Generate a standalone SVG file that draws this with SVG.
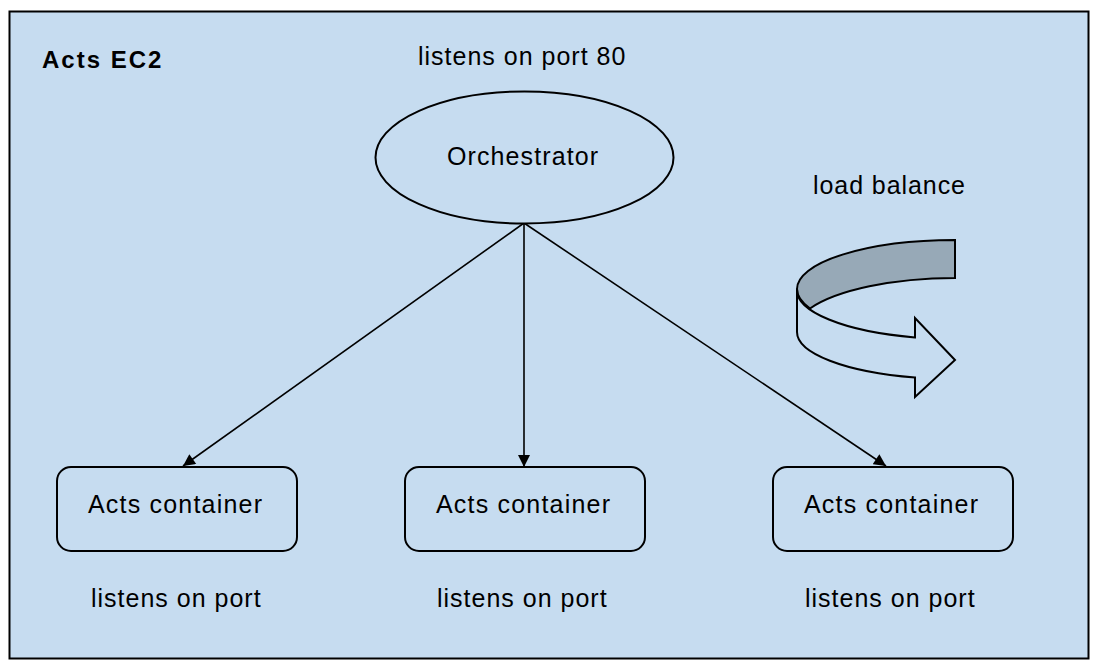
<svg xmlns="http://www.w3.org/2000/svg" width="1100" height="670" viewBox="0 0 1100 670">
  <style>
    .t { font-family: "Liberation Sans", Arial, sans-serif; font-size: 25px; fill: #000; letter-spacing: 1.1px; }
    .b { font-family: "Liberation Sans", Arial, sans-serif; font-size: 24px; font-weight: bold; fill: #000; letter-spacing: 2px; }
    .box { fill: #c6dcf0; stroke: #000; stroke-width: 2; }
    .conn { stroke: #000; stroke-width: 1.6; fill: none; marker-end: url(#arr); }
  </style>
  <defs>
    <marker id="arr" viewBox="0 0 10 10" refX="10" refY="5" markerWidth="13" markerHeight="12" markerUnits="userSpaceOnUse" orient="auto">
      <path d="M0,0 L10,5 L0,10 Z" fill="#000"/>
    </marker>
  </defs>
  <rect x="0" y="0" width="1100" height="670" fill="#ffffff"/>
  <g id="frame">
    <rect x="9.5" y="11.5" width="1079" height="647" fill="#c6dcf0" stroke="#000" stroke-width="2"/>
    <text class="b" x="42" y="68">Acts EC2</text>
  </g>
  <g id="connectors">
    <line class="conn" x1="524" y1="223" x2="183" y2="466"/>
    <line class="conn" x1="524" y1="223" x2="524" y2="467"/>
    <line class="conn" x1="524" y1="223" x2="886" y2="466"/>
  </g>
  <g id="orchestrator">
    <text class="t" x="418" y="65" style="letter-spacing:1px">listens on port 80</text>
    <ellipse cx="524.5" cy="157.5" rx="149" ry="66" class="box"/>
    <text class="t" x="447" y="165">Orchestrator</text>
  </g>
  <g id="container1">
    <rect x="57" y="467" width="240" height="84" rx="14" class="box"/>
    <text class="t" x="88" y="513" style="letter-spacing:1.2px">Acts container</text>
    <text class="t" x="91" y="607" style="letter-spacing:1px">listens on port</text>
  </g>
  <g id="container2">
    <rect x="405" y="467" width="240" height="84" rx="14" class="box"/>
    <text class="t" x="436" y="513" style="letter-spacing:1.2px">Acts container</text>
    <text class="t" x="437" y="607" style="letter-spacing:1px">listens on port</text>
  </g>
  <g id="container3">
    <rect x="773" y="467" width="240" height="84" rx="14" class="box"/>
    <text class="t" x="804" y="513" style="letter-spacing:1.2px">Acts container</text>
    <text class="t" x="805" y="607" style="letter-spacing:1px">listens on port</text>
  </g>
  <g id="load-balance">
    <text class="t" x="813" y="194" style="letter-spacing:0.93px">load balance</text>
    <path d="M797,289 A158,49 0 0 1 955,240 L955,278 A162,54 0 0 0 810,308.5 A158,49 0 0 1 797,289 Z" fill="#97a9b7" stroke="#000" stroke-width="2" stroke-linejoin="miter"/>
    <path d="M797,289 A158,49 0 0 0 915,337.4 L915,318 L955,360 L915,397 L915,377.5 A158,47 0 0 1 797,332 Z" fill="#c6dcf0" stroke="#000" stroke-width="2" stroke-linejoin="miter"/>
  </g>
</svg>
